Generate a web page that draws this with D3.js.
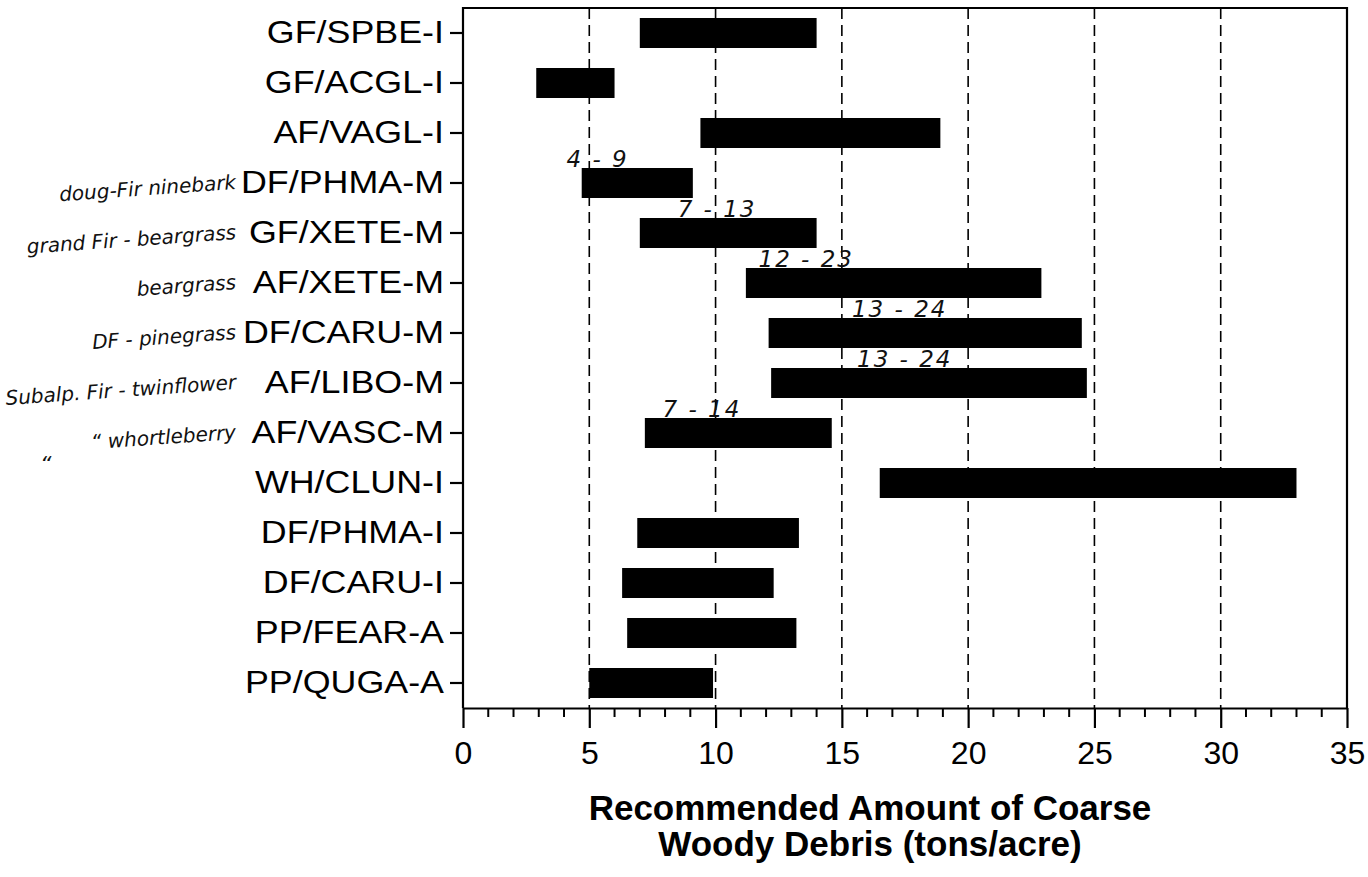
<!DOCTYPE html>
<html>
<head>
<meta charset="utf-8">
<script src="https://cdn.jsdelivr.net/npm/d3@7/dist/d3.min.js"></script>
<style>
  html, body { margin: 0; padding: 0; background: #fff; }
  svg { display: block; }
  .hand { font-family: "DejaVu Sans", sans-serif; font-style: italic; fill: #111; }
</style>
</head>
<body>
<script>
// ---- data ----
const categories = ["GF/SPBE-I","GF/ACGL-I","AF/VAGL-I","DF/PHMA-M","GF/XETE-M","AF/XETE-M","DF/CARU-M","AF/LIBO-M","AF/VASC-M","WH/CLUN-I","DF/PHMA-I","DF/CARU-I","PP/FEAR-A","PP/QUGA-A"];
const lowValues  = [7.0, 2.9, 9.4, 4.7, 7.0, 11.2, 12.1, 12.2, 7.2, 16.5, 6.9, 6.3, 6.5, 5.0];
const highValues = [14.0, 6.0, 18.9, 9.1, 14.0, 22.9, 24.5, 24.7, 14.6, 33.0, 13.3, 12.3, 13.2, 9.9];
const xTicks = [0, 5, 10, 15, 20, 25, 30, 35];
const gridValues = [5, 10, 15, 20, 25, 30];
const titleLines = ["Recommended Amount of Coarse", "Woody Debris (tons/acre)"];
// handwritten notes on the scan
const rangeNotes = ["4 - 9", "7 - 13", "12 - 23", "13 - 24", "13 - 24", "7 - 14"];
const rangeNoteCats = ["DF/PHMA-M","GF/XETE-M","AF/XETE-M","DF/CARU-M","AF/LIBO-M","AF/VASC-M"];
const rangeNoteAt = [4.1, 8.5, 11.7, 15.4, 15.6, 7.9];
const sideNotes = ["doug-Fir ninebark", "grand Fir - beargrass", "beargrass", "DF - pinegrass", "Subalp. Fir - twinflower", "\u201C whortleberry"];
const sideNoteCats = ["DF/PHMA-M","GF/XETE-M","AF/XETE-M","DF/CARU-M","AF/LIBO-M","AF/VASC-M"];

const W = 1368, H = 877;
const svg = d3.select("body").append("svg").attr("width", W).attr("height", H);

const x = d3.scaleLinear().domain([0, 35]).range([463, 1347]);
const y = d3.scaleBand().domain(categories).range([8, 708]).paddingInner(0.4).paddingOuter(0.2);
const plotTop = 8, plotBottom = 708;

// gridlines
svg.append("g").selectAll("line").data(gridValues).join("line")
  .attr("x1", d => x(d)).attr("x2", d => x(d))
  .attr("y1", plotTop).attr("y2", plotBottom)
  .attr("stroke", "#000").attr("stroke-width", 1.6)
  .attr("stroke-dasharray", "11,6");

// bars
svg.append("g").selectAll("rect").data(categories).join("rect")
  .attr("x", (d, i) => x(lowValues[i]))
  .attr("width", (d, i) => x(highValues[i]) - x(lowValues[i]))
  .attr("y", d => y(d))
  .attr("height", y.bandwidth())
  .attr("fill", "#000");

// frame
svg.append("path")
  .attr("d", `M${x(0)},${plotBottom} L${x(0)},${plotTop} L${x(35)},${plotTop} L${x(35)},${plotBottom}`)
  .attr("fill", "none").attr("stroke", "#000").attr("stroke-width", 2.2);

// x axis major
const xAxis = svg.append("g").attr("transform", `translate(0,${plotBottom})`)
  .call(d3.axisBottom(x).tickValues(xTicks).tickSize(20).tickSizeOuter(0).tickPadding(13));
xAxis.select(".domain").attr("stroke-width", 2.2);
xAxis.selectAll(".tick line").attr("stroke-width", 2.2);
xAxis.selectAll("text").attr("font-family", "Liberation Sans, Arial, sans-serif").attr("font-size", 32).attr("fill", "#000");

// x axis minor ticks
const minor = d3.range(0, 36).filter(v => v % 5 !== 0);
svg.append("g").selectAll("line").data(minor).join("line")
  .attr("x1", d => x(d)).attr("x2", d => x(d))
  .attr("y1", plotBottom).attr("y2", plotBottom + 9)
  .attr("stroke", "#000").attr("stroke-width", 2);

// y axis
const yAxis = svg.append("g").attr("transform", `translate(${x(0)},0)`)
  .call(d3.axisLeft(y).tickSize(13).tickSizeOuter(0).tickPadding(6));
yAxis.select(".domain").remove();
yAxis.selectAll(".tick line").attr("stroke-width", 2.2);
yAxis.selectAll("text")
  .attr("font-family", "Liberation Sans, Arial, sans-serif")
  .attr("font-size", 32).attr("fill", "#000")
  .attr("transform", "scale(1.12,1)")
  .attr("x", -19 / 1.12);

// x title
const tg = svg.append("g");
tg.selectAll("text").data(titleLines).join("text")
  .attr("x", 870).attr("y", (d, i) => 820 + i * 36)
  .attr("text-anchor", "middle")
  .attr("font-family", "Liberation Sans, Arial, sans-serif")
  .attr("font-weight", "bold").attr("font-size", 35)
  .attr("fill", "#000")
  .text(d => d);

// handwritten range notes
svg.append("g").selectAll("text").data(rangeNotes).join("text")
  .attr("class", "hand")
  .attr("x", (d, i) => x(rangeNoteAt[i]))
  .attr("y", (d, i) => y(rangeNoteCats[i]) - 1)
  .attr("font-size", 23)
  .attr("letter-spacing", 2)
  .text(d => d);

// handwritten side notes
svg.append("g").selectAll("text").data(sideNotes).join("text")
  .attr("class", "hand")
  .attr("x", 236)
  .attr("y", (d, i) => y(sideNoteCats[i]) + y.bandwidth() / 2 + 6)
  .attr("text-anchor", "end")
  .attr("font-size", 20)
  .attr("transform", (d, i) => `rotate(-4, 236, ${y(sideNoteCats[i]) + y.bandwidth() / 2})`)
  .text(d => d);
svg.append("text").attr("class", "hand").attr("x", 40).attr("y", 472).attr("font-size", 22).text("\u201C");
</script>
</body>
</html>
